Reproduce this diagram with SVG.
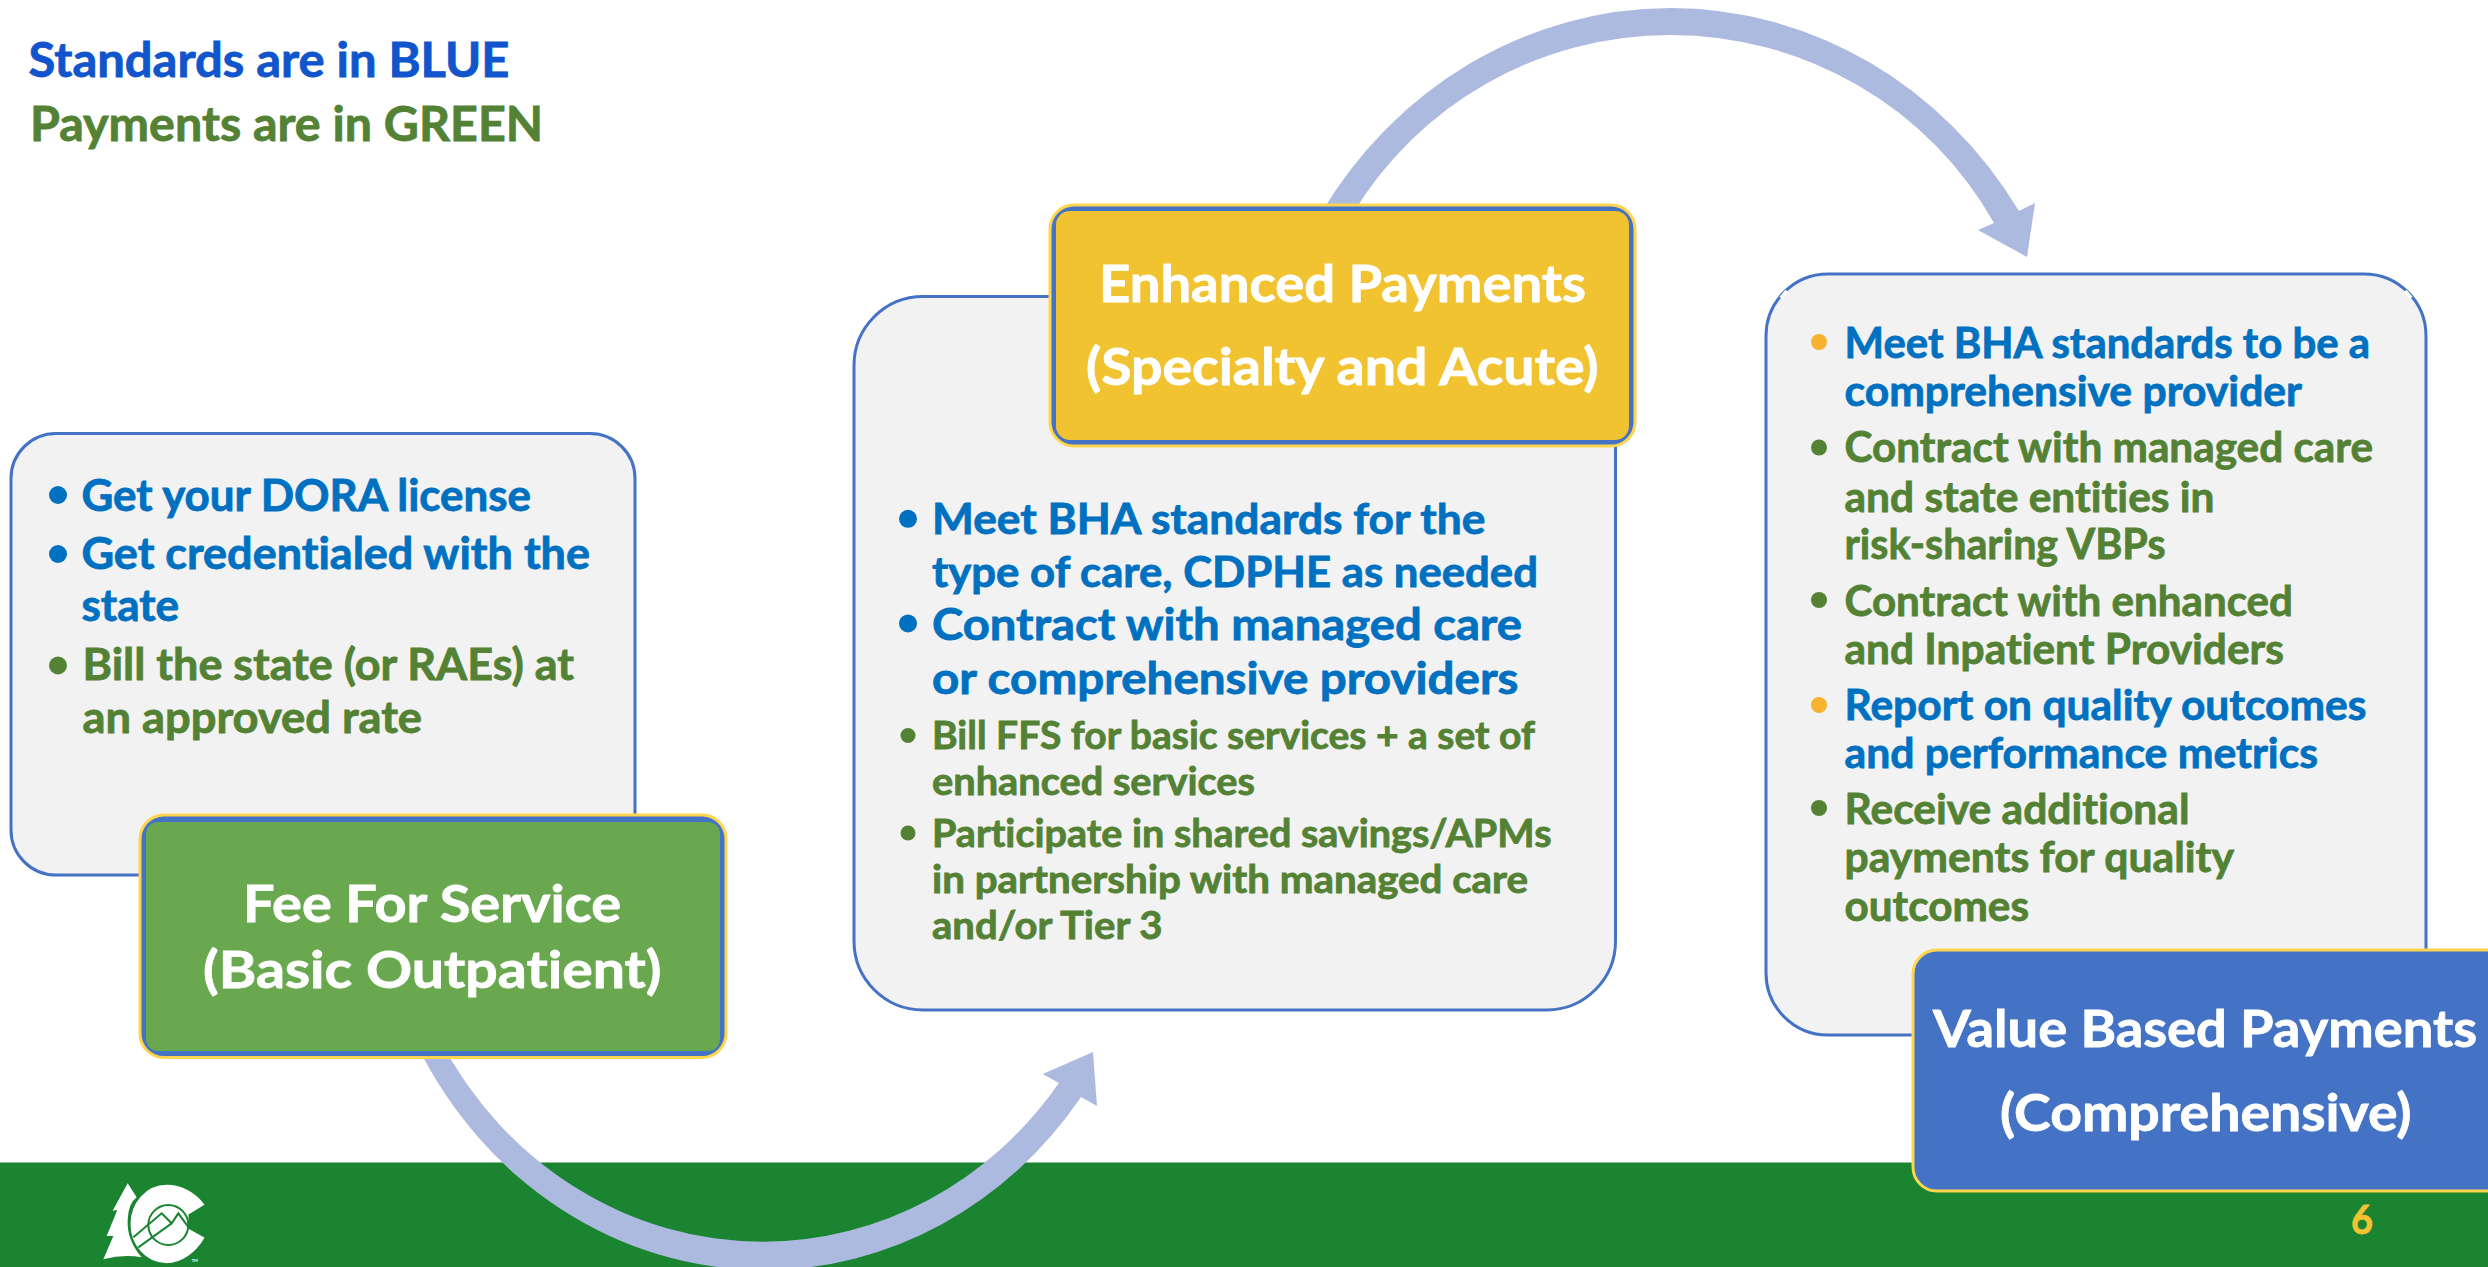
<svg xmlns="http://www.w3.org/2000/svg" width="2488" height="1267" viewBox="0 0 2488 1267">
<style>
text{font-family:Lato,"Open Sans","Liberation Sans",sans-serif;font-weight:700;font-variant-ligatures:none;stroke-width:.8px}
.b{fill:#0070C0;stroke:#0070C0}.g{fill:#548235;stroke:#548235}
.l1{font-size:43px}.l2{font-size:42px}.l3{font-size:37.5px}.t{font-size:51px;fill:#fff;stroke:#fff}
.box{fill:#F2F2F2;stroke:#4472C4;stroke-width:3}
.hd{fill:#4472C4;stroke:#FFD54F;stroke-width:3}
.db{fill:#0070C0}.dg{fill:#548235}.do{fill:#F7B22F}
.arrow{fill:#ADBADF}
</style>
<rect id="footer-band" x="0" y="1162.5" width="2488" height="104.5" fill="#1A8431"/>
<g id="logo" transform="translate(60 1160) scale(.3333)">
<path fill="#fff" d="M203,70L158,152L172,150L140,228L160,228L130,298Q190,282 245,292Q200,240 203,180Q205,130 230,112Z"/>
<path fill="#fff" stroke="#1A8431" stroke-width="5" d="M437,135C410,95 365,72 320,72C255,72 209,130 209,192C209,255 255,312 320,312C365,312 410,280 437,232L388,205L388,165Z"/>
<circle cx="325" cy="195" r="60" fill="#fff" stroke="#1A8431" stroke-width="6"/>
<path fill="none" stroke="#1A8431" stroke-width="6" d="M220,232L305,160L335,190L355,160L388,205M235,262L335,190"/>
<text x="395" y="307" font-size="12" fill="#fff">TM</text>
</g>
<g id="connectors">
<path class="arrow" d="M417,1045A392,420 0 0 0 764,1270A392,420 0 0 0 1081,1097L1097,1106L1093,1052L1042.7,1074L1059,1083A369,391.7 0 0 1 763,1241.7A369,391.7 0 0 1 440,1040Z"/>
<path class="arrow" d="M1320,215A414.5,442 0 0 1 1670.5,8A414.5,442 0 0 1 2019,211L2035,203L2027,257L1978,230L1994,223A369.6,365 0 0 0 1670.5,35A369.6,365 0 0 0 1352,215Z"/>
</g>
<g id="legend">
<text x="28.5" y="77" font-size="47" fill="#1155CC" stroke="#1155CC" textLength="481" lengthAdjust="spacingAndGlyphs">Standards are in BLUE</text>
<text x="30" y="141" font-size="47" fill="#548235" stroke="#548235" textLength="513" lengthAdjust="spacingAndGlyphs">Payments are in GREEN</text>
</g>
<g id="card-fee-for-service">
<rect class="box" x="11" y="433.5" width="624" height="441.5" rx="45"/>
<circle class="db" cx="58" cy="495" r="9"/><circle class="db" cx="58" cy="554" r="9"/><circle class="dg" cx="58" cy="665.5" r="9"/>
<text class="l1 b" x="81.5" y="510.5" textLength="449.5" lengthAdjust="spacingAndGlyphs">Get your DORA license</text>
<text class="l1 b" x="81.5" y="568.5" textLength="508.5" lengthAdjust="spacingAndGlyphs">Get credentialed with the</text>
<text class="l1 b" x="81.5" y="621" textLength="97.5" lengthAdjust="spacingAndGlyphs">state</text>
<text class="l1 g" x="82.5" y="680" textLength="491.5" lengthAdjust="spacingAndGlyphs">Bill the state (or RAEs) at</text>
<text class="l1 g" x="82.5" y="732.5" textLength="339.5" lengthAdjust="spacingAndGlyphs">an approved rate</text>
</g>
<g id="node-fee-for-service">
<rect class="hd" x="140" y="815" width="586" height="242.5" rx="24"/>
<rect x="146" y="822" width="574" height="229" rx="12" fill="#6AA84F"/>
<text class="t" x="243" y="922" textLength="378" lengthAdjust="spacingAndGlyphs">Fee For Service</text>
<text class="t" x="203" y="988" textLength="458.5" lengthAdjust="spacingAndGlyphs">(Basic Outpatient)</text>
</g>
<g id="card-enhanced">
<rect class="box" x="854" y="296.5" width="761.5" height="713.5" rx="69"/>
<circle class="db" cx="908" cy="518.8" r="9"/><circle class="db" cx="908" cy="623.4" r="9"/><circle class="dg" cx="908" cy="735.5" r="7.5"/><circle class="dg" cx="908" cy="833" r="7.5"/>
<text class="l2 b" x="932" y="534" textLength="553.5" lengthAdjust="spacingAndGlyphs">Meet BHA standards for the</text>
<text class="l2 b" x="932" y="586.5" textLength="606" lengthAdjust="spacingAndGlyphs">type of care, CDPHE as needed</text>
<text class="l2 b" x="932" y="639.5" textLength="590" lengthAdjust="spacingAndGlyphs" style="font-size:44px">Contract with managed care</text>
<text class="l2 b" x="932" y="694" textLength="586.5" lengthAdjust="spacingAndGlyphs" style="font-size:44px">or comprehensive providers</text>
<text class="l3 g" x="932" y="749" textLength="603" lengthAdjust="spacingAndGlyphs">Bill FFS for basic services + a set of</text>
<text class="l3 g" x="932" y="795" textLength="323" lengthAdjust="spacingAndGlyphs">enhanced services</text>
<text class="l3 g" x="932" y="846.5" textLength="619.5" lengthAdjust="spacingAndGlyphs">Participate in shared savings/APMs</text>
<text class="l3 g" x="932" y="892.5" textLength="596" lengthAdjust="spacingAndGlyphs">in partnership with managed care</text>
<text class="l3 g" x="932" y="939" textLength="230.5" lengthAdjust="spacingAndGlyphs">and/or Tier 3</text>
</g>
<g id="node-enhanced">
<rect class="hd" x="1050" y="205" width="585" height="241" rx="24"/>
<rect x="1056" y="211" width="573" height="229" rx="14" fill="#F1C331"/>
<text class="t" x="1099" y="302" textLength="487" lengthAdjust="spacingAndGlyphs">Enhanced Payments</text>
<text class="t" x="1086" y="385" textLength="512.5" lengthAdjust="spacingAndGlyphs">(Specialty and Acute)</text>
</g>
<g id="card-value-based">
<rect class="box" x="1766" y="274" width="660" height="761" rx="62"/>
<path d="M1781,298L1787,291M2405,291L2411,298" stroke="#fff" stroke-width="4" fill="none"/>
<circle class="do" cx="1819" cy="342" r="8"/><circle class="dg" cx="1819" cy="447.5" r="8"/><circle class="dg" cx="1819" cy="600" r="8"/><circle class="do" cx="1819" cy="705" r="8"/><circle class="dg" cx="1819" cy="808" r="8"/>
<text class="l2 b" x="1844.5" y="358" textLength="525.5" lengthAdjust="spacingAndGlyphs">Meet BHA standards to be a</text>
<text class="l2 b" x="1844.5" y="406" textLength="457.5" lengthAdjust="spacingAndGlyphs">comprehensive provider</text>
<text class="l2 g" x="1844.5" y="462" textLength="528.5" lengthAdjust="spacingAndGlyphs">Contract with managed care</text>
<text class="l2 g" x="1844.5" y="511.5" textLength="370" lengthAdjust="spacingAndGlyphs">and state entities in</text>
<text class="l2 g" x="1844.5" y="559" textLength="321" lengthAdjust="spacingAndGlyphs">risk-sharing VBPs</text>
<text class="l2 g" x="1844.5" y="615.5" textLength="448.5" lengthAdjust="spacingAndGlyphs">Contract with enhanced</text>
<text class="l2 g" x="1844.5" y="664" textLength="439.5" lengthAdjust="spacingAndGlyphs">and Inpatient Providers</text>
<text class="l2 b" x="1844.5" y="719.5" textLength="522" lengthAdjust="spacingAndGlyphs">Report on quality outcomes</text>
<text class="l2 b" x="1844.5" y="768" textLength="473.5" lengthAdjust="spacingAndGlyphs">and performance metrics</text>
<text class="l2 g" x="1844.5" y="823.5" textLength="345" lengthAdjust="spacingAndGlyphs">Receive additional</text>
<text class="l2 g" x="1844.5" y="872" textLength="389.5" lengthAdjust="spacingAndGlyphs">payments for quality</text>
<text class="l2 g" x="1844.5" y="921" textLength="184.5" lengthAdjust="spacingAndGlyphs">outcomes</text>
</g>
<g id="node-value-based">
<rect x="1913" y="950" width="600" height="241" rx="24" fill="#4472C4" stroke="#FFD54F" stroke-width="3"/>
<text class="t" x="1933" y="1047" textLength="544" lengthAdjust="spacingAndGlyphs">Value Based Payments</text>
<text class="t" x="2000" y="1131" textLength="411.5" lengthAdjust="spacingAndGlyphs">(Comprehensive)</text>
</g>
<text id="page-number" x="2351" y="1234" font-size="40" fill="#F1C331" stroke="#F1C331" textLength="22" lengthAdjust="spacingAndGlyphs">6</text>
</svg>
